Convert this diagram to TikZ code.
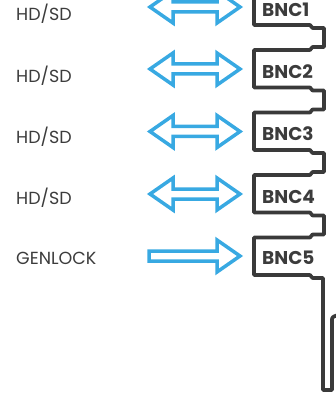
\documentclass[tikz,border=0pt]{standalone}
\usepackage{fontspec}
\setmainfont{Poppins}
\usepackage{tikz}
\definecolor{arrowblue}{HTML}{38A9E2}
\definecolor{boardgray}{HTML}{3A3A3A}
\definecolor{labelgray}{HTML}{3C3C3C}

\begin{document}
\begin{tikzpicture}[x=1pt,y=-1pt,
    sig/.style={draw=arrowblue,line width=3.5pt,line join=miter},
    board/.style={draw=boardgray,line width=3.7pt,line join=round},
    port/.style={anchor=west,text=labelgray,font=\fontsize{17.5}{19}\selectfont,inner sep=0pt},
    bnc/.style={anchor=west,text=labelgray,font=\fontsize{18.5}{20}\bfseries\selectfont,inner sep=0pt}]
			\useasboundingbox (0,0) rectangle (336,395);
			% bidirectional arrows
			\foreach \c in {7,69,131.5,194}
			{
			\draw[sig] (150,\c) -- (173,\c-16) -- (173,\c-5) -- (217,\c-5) -- (217,\c-16) -- (240,\c) -- (217,\c+16) -- (217,\c+5) -- (173,\c+5) -- (173,\c+16) -- cycle;
			}
			% genlock input
			\draw[sig] (149,251) -- (217,251) -- (217,240) -- (240,256) -- (217,272) -- (217,261) -- (149,261) -- cycle;
			% board outline
			\draw[board] (254,-5) -- (254,25) -- (310,25) -- (312.5,28) -- (324,28) -- (324,47) -- (312.5,47) -- (310,50)
			    -- (254,50) -- (254,87.5) -- (310,87.5) -- (312.5,90.5) -- (324,90.5) -- (324,109.5) -- (312.5,109.5) -- (310,112.5)
			    -- (254,112.5) -- (254,150) -- (310,150) -- (312.5,153) -- (324,153) -- (324,172) -- (312.5,172) -- (310,175)
			    -- (254,175) -- (254,212.5) -- (310,212.5) -- (312.5,215.5) -- (324,215.5) -- (324,234.5) -- (312.5,234.5) -- (310,237.5)
			    -- (254,237.5) -- (254,275) -- (310,275) -- (312.5,278) -- (323,278) -- (323,390) -- (332,390) -- (332,321)
			    .. controls (332,317) .. (338,315);
			% labels
			\node[port] (in1) at (16,14) {HD/SD};
			\node[port] (in2) at (16,76) {HD/SD};
			\node[port] (in3) at (16,137) {HD/SD};
			\node[port] (in4) at (16,198) {HD/SD};
			\node[port] (gen) at (16,258) {GENLOCK};
			\node[bnc] (bnc1) at (262,10) {BNC1};
			\node[bnc] (bnc2) at (262,72) {BNC2};
			\node[bnc] (bnc3) at (262,134) {BNC3};
			\node[bnc] (bnc4) at (262,197) {BNC4};
			\node[bnc] (bnc5) at (262,258) {BNC5};
		\end{tikzpicture}
\end{document}
